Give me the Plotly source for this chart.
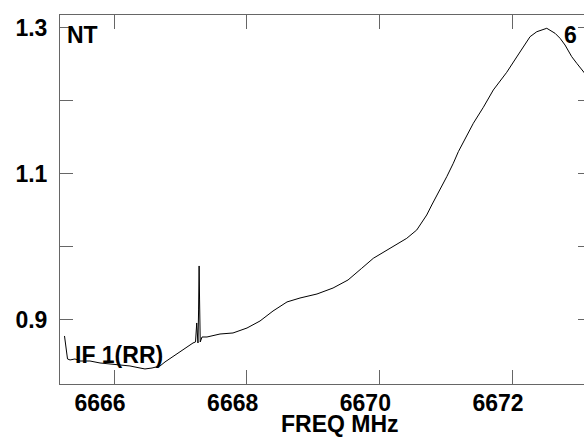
import plotly.graph_objects as go

# Spectrum (frequency in MHz, relative intensity)
freq = [6665.254, 6665.269, 6665.284, 6665.299, 6665.337, 6665.412, 6665.487, 6665.638,
        6665.789, 6665.940, 6666.090, 6666.241, 6666.392, 6666.467, 6666.573, 6666.694,
        6666.769, 6666.920, 6667.070, 6667.191, 6667.229, 6667.239, 6667.247, 6667.256,
        6667.266, 6667.275, 6667.283, 6667.290, 6667.300, 6667.327, 6667.402, 6667.598,
        6667.794, 6668.005, 6668.201, 6668.397, 6668.608, 6668.804, 6669.060, 6669.302,
        6669.528, 6669.734, 6669.909, 6670.161, 6670.413, 6670.564, 6670.714, 6670.790,
        6670.915, 6671.016, 6671.115, 6671.191, 6671.417, 6671.568, 6671.718, 6671.920,
        6672.071, 6672.272, 6672.373, 6672.524, 6672.649, 6672.724, 6672.799, 6672.900,
        6672.976, 6673.075, 6673.176]
intensity = [0.8781, 0.8644, 0.8507, 0.8466, 0.8452, 0.8466, 0.8438, 0.8438,
             0.8411, 0.8397, 0.8384, 0.8370, 0.8342, 0.8329, 0.8342, 0.8370,
             0.8425, 0.8521, 0.8616, 0.8685, 0.8699, 0.8863, 0.8959, 0.8822,
             0.8685, 0.9137, 0.9740, 0.9274, 0.8699, 0.8767, 0.8767, 0.8808,
             0.8822, 0.8890, 0.8986, 0.9123, 0.9247, 0.9301, 0.9356, 0.9438,
             0.9548, 0.9708, 0.9845, 0.9982, 1.0119, 1.0233, 1.0438, 1.0575,
             1.0781, 1.0963, 1.1147, 1.1306, 1.1695, 1.1914, 1.2151, 1.2393,
             1.2603, 1.2881, 1.2949, 1.2996, 1.2927, 1.2859, 1.2767, 1.2607,
             1.2516, 1.2401, 1.2288]

x_ticks = [6666, 6668, 6670, 6672]
x_tick_labels = ["6666", "6668", "6670", "6672"]
y_ticks = [0.9, 1.0, 1.1, 1.2, 1.3]
y_tick_labels = ["0.9", "", "1.1", "", "1.3"]

x_range = [6665.186, 6673.085]
y_range = [0.8123, 1.3178]

FONT = dict(family="Liberation Sans, Arial, sans-serif", size=23, color="black", weight="bold")
FRAME = "#666666"

fig = go.Figure()
fig.add_trace(go.Scatter(x=freq, y=intensity, mode="lines",
                         line=dict(color="black", width=1), hoverinfo="skip",
                         showlegend=False))
# same data on the mirrored right axis (invisible) so its tick marks are drawn
fig.add_trace(go.Scatter(x=freq, y=intensity, mode="lines", yaxis="y2",
                         line=dict(color="black", width=1), opacity=0,
                         hoverinfo="skip", showlegend=False))

fig.update_layout(
    width=584, height=437,
    margin=dict(l=60, r=0, t=15, b=53, pad=0),
    paper_bgcolor="white", plot_bgcolor="white",
    font=FONT,
    xaxis=dict(range=x_range, tickvals=x_ticks, ticktext=x_tick_labels,
               ticks="inside", ticklen=14, tickwidth=1, tickcolor=FRAME,
               showline=True, linecolor=FRAME, linewidth=1, mirror="ticks",
               showgrid=False, zeroline=False, tickfont=FONT,
               ticklabelshift=-14, ticklabelstandoff=-2),
    yaxis=dict(range=y_range, tickvals=y_ticks, ticktext=y_tick_labels,
               ticks="inside", ticklen=13, tickwidth=1, tickcolor=FRAME,
               showline=True, linecolor=FRAME, linewidth=1, mirror=False,
               showgrid=False, zeroline=False, tickfont=FONT,
               ticklabelstandoff=7),
    yaxis2=dict(range=y_range, tickvals=y_ticks, overlaying="y", side="right",
                ticks="inside", ticklen=6, tickwidth=1, tickcolor=FRAME,
                showline=False, showgrid=False, zeroline=False,
                showticklabels=False),
    annotations=[
        dict(text="NT", xref="paper", yref="paper", x=0.0096, y=0.947,
             xanchor="left", yanchor="middle", showarrow=False, font=FONT),
        dict(text="6", xref="paper", yref="paper", x=0.958, y=0.947,
             xanchor="left", yanchor="middle", showarrow=False, font=FONT),
        dict(text="IF 1(RR)", xref="paper", yref="paper", x=0.0248, y=0.0786,
             xanchor="left", yanchor="middle", showarrow=False, font=FONT),
        dict(text="FREQ MHz", xref="paper", yref="paper", x=0.5344, y=-0.109,
             xanchor="center", yanchor="middle", showarrow=False, font=FONT),
    ],
)

fig.write_html("out.html",
               config={"displayModeBar": False},
               post_script="document.body.style.margin='0';"
                           "document.body.style.overflow='hidden';")
